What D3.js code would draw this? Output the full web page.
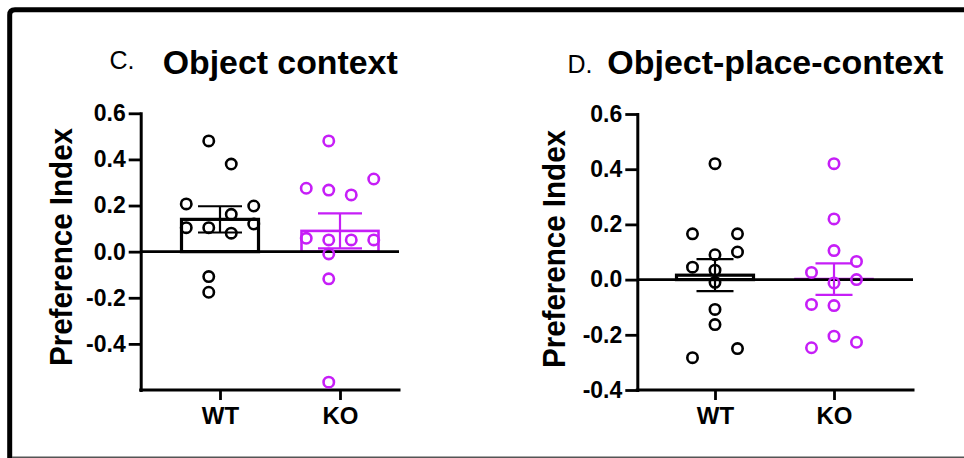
<!DOCTYPE html>
<html>
<head>
<meta charset="utf-8">
<script src="https://cdn.jsdelivr.net/npm/d3@7/dist/d3.min.js"></script>
<style>
  html, body { margin: 0; padding: 0; background: #fff; }
  svg { display: block; }
  text { font-family: "Liberation Sans", Arial, Helvetica, sans-serif; fill: #000; }
</style>
</head>
<body>
<svg id="chart" width="964" height="458"></svg>
<script>
// ---------------- DATA ----------------
const groups = ["WT", "KO"];

// Panel C: Object context
const cTitleLetter = "C.";
const cTitle = "Object context";
const cTickValues = [0.6, 0.4, 0.2, 0.0, -0.2, -0.4];
const cTickLabels = ["0.6", "0.4", "0.2", "0.0", "-0.2", "-0.4"];
const cWT = [0.48, 0.38, 0.207, 0.198, 0.162, 0.12, 0.104, 0.104, 0.08, -0.108, -0.176];
const cWTSlots = [-0.5, 0.5, -1.5, 1.5, 0.5, 1.5, -1.5, -0.5, 0.5, -0.5, -0.5];
const cKO = [0.48, 0.315, 0.275, 0.267, 0.246, 0.058, 0.051, 0.051, 0.051, -0.01, -0.118, -0.566];
const cKOSlots = [-0.5, 1.5, -1.5, -0.5, 0.5, -1.5, -0.5, 0.5, 1.5, -0.5, -0.5, -0.5];
const cMeans = [0.14, 0.09];
const cSems = [0.057, 0.076];

// Panel D: Object-place-context
const dTitleLetter = "D.";
const dTitle = "Object-place-context";
const dTickValues = [0.6, 0.4, 0.2, 0.0, -0.2, -0.4];
const dTickLabels = ["0.6", "0.4", "0.2", "0.0", "-0.2", "-0.4"];
const dWT = [0.42, 0.166, 0.166, 0.1, 0.09, 0.045, 0.034, -0.01, -0.108, -0.163, -0.25, -0.283];
const dWTSlots = [0, -1, 1, 1, 0, -1, 0, 0, 0, 0, 1, -1];
const dKO = [0.42, 0.22, 0.105, 0.066, 0.026, 0.0, -0.012, -0.09, -0.094, -0.205, -0.227, -0.247];
const dKOSlots = [0, 0, 0, 1, -1, 1, 0, -1, 0, 0, 1, -1];
const dMeans = [0.016, 0.002];
const dSems = [0.058, 0.057];

const yLabel = "Preference Index";

// ---------------- STYLE / LAYOUT ----------------
const colors = { WT: "#000000", KO: "#c61ef7" };
const svg = d3.select("#chart");

// outer frame
svg.append("path")
  .attr("d", "M9.7,470 L9.7,15 Q9.7,9.7 15,9.7 L970,9.7")
  .attr("fill", "none").attr("stroke", "#000").attr("stroke-width", 5);
svg.append("line")
  .attr("x1", 12).attr("x2", 964).attr("y1", 457.3).attr("y2", 457.3)
  .attr("stroke", "#555").attr("stroke-width", 1.6);

function panel(cfg) {
  const g = svg.append("g");
  const y = d3.scaleLinear().domain(cfg.yDomain).range([cfg.yBottom, cfg.yTop]);
  const x = d3.scalePoint().domain(groups).range(cfg.xCenters);

  // titles
  g.append("text").attr("x", cfg.letterX).attr("y", cfg.letterY)
    .style("font-size", cfg.letterSize + "px").text(cfg.letter);
  g.append("text").attr("x", cfg.titleX).attr("y", 73.5)
    .style("font-size", "34px").style("font-weight", "bold")
    .attr("textLength", cfg.titleLen).attr("lengthAdjust", "spacingAndGlyphs")
    .text(cfg.title);

  // y label
  g.append("text")
    .attr("transform", `translate(${cfg.yLabelX},${cfg.yLabelY}) rotate(-90)`)
    .attr("text-anchor", "middle")
    .style("font-size", "32px").style("font-weight", "bold")
    .attr("textLength", 238).attr("lengthAdjust", "spacingAndGlyphs")
    .text(yLabel);

  const series = [
    { key: "WT", vals: cfg.wt, slots: cfg.wtSlots, mean: cfg.means[0], sem: cfg.sems[0] },
    { key: "KO", vals: cfg.ko, slots: cfg.koSlots, mean: cfg.means[1], sem: cfg.sems[1] }
  ];

  // bars
  g.selectAll(".bar").data(series).enter().append("rect")
    .attr("x", d => x(d.key) - cfg.barW / 2)
    .attr("width", cfg.barW)
    .attr("y", d => Math.min(y(d.mean), y(0)))
    .attr("height", d => Math.abs(y(0) - y(d.mean)))
    .attr("fill", "none")
    .attr("stroke", d => colors[d.key])
    .attr("stroke-width", d => d.key === "WT" ? 3.2 : 2.6);

  // zero line
  g.append("line")
    .attr("x1", cfg.axisLeft).attr("x2", cfg.axisRight)
    .attr("y1", y(0)).attr("y2", y(0))
    .attr("stroke", "#000").attr("stroke-width", 2.6);

  // y axis
  const yAxis = d3.axisLeft(y)
    .tickValues(cfg.tickValues)
    .tickFormat((d, i) => cfg.tickLabels[i])
    .tickSize(12).tickSizeOuter(0).tickPadding(3);
  const ya = g.append("g").attr("transform", `translate(${cfg.axisLeft},0)`).call(yAxis);
  ya.select(".domain").attr("stroke-width", 3).attr("stroke-linecap", "square");
  ya.selectAll(".tick line").attr("stroke-width", 2.8);
  ya.selectAll(".tick text")
    .style("font-size", "23px").style("font-weight", "bold")
    .style("font-family", "'Liberation Sans', Arial, sans-serif").attr("fill", "#000");

  // x axis
  g.append("line")
    .attr("x1", cfg.axisLeft).attr("x2", cfg.axisRight)
    .attr("y1", cfg.yBottom).attr("y2", cfg.yBottom)
    .attr("stroke", "#000").attr("stroke-width", 3).attr("stroke-linecap", "square");
  const xAxis = d3.axisBottom(x).tickSize(10).tickSizeOuter(0).tickPadding(7);
  const xa = g.append("g").attr("transform", `translate(0,${cfg.yBottom})`).call(xAxis);
  xa.select(".domain").remove();
  xa.selectAll(".tick line").attr("stroke-width", 2.8);
  xa.selectAll(".tick text")
    .attr("dy", "0.71em")
    .style("font-size", "24px").style("font-weight", "bold")
    .style("font-family", "'Liberation Sans', Arial, sans-serif").attr("fill", "#000");

  // error bars
  series.forEach(s => {
    const cx = x(s.key);
    const eg = g.append("g").attr("stroke", colors[s.key]).attr("stroke-width", 2.2);
    eg.append("line").attr("x1", cx).attr("x2", cx)
      .attr("y1", y(s.mean + s.sem)).attr("y2", y(s.mean - s.sem));
    [s.mean + s.sem, s.mean - s.sem].forEach(v => {
      eg.append("line").attr("x1", cx - cfg.capW / 2).attr("x2", cx + cfg.capW / 2)
        .attr("y1", y(v)).attr("y2", y(v));
    });
  });

  // points
  series.forEach(s => {
    g.selectAll(null).data(s.vals.map((v, i) => ({ v, slot: s.slots[i] })))
      .enter().append("circle")
      .attr("cx", d => x(s.key) + d.slot * cfg.slotW)
      .attr("cy", d => y(d.v))
      .attr("r", 5.2)
      .attr("fill", "none")
      .attr("stroke", colors[s.key])
      .attr("stroke-width", 2.6);
  });
}

panel({
  letter: cTitleLetter, title: cTitle, titleLen: 235,
  letterX: 109.5, letterY: 68.5, letterSize: 25, titleX: 162.7,
  yLabelX: 72, yLabelY: 247,
  yDomain: [-0.6, 0.6], yBottom: 390, yTop: 113.3,
  xCenters: [220, 340], axisLeft: 140.7, axisRight: 399,
  tickValues: cTickValues, tickLabels: cTickLabels,
  wt: cWT, wtSlots: cWTSlots, ko: cKO, koSlots: cKOSlots,
  means: cMeans, sems: cSems,
  barW: 77, capW: 44, slotW: 22.5
});

panel({
  letter: dTitleLetter, title: dTitle, titleLen: 336,
  letterX: 567.5, letterY: 73, letterSize: 25, titleX: 607.3,
  yLabelX: 565, yLabelY: 249,
  yDomain: [-0.4, 0.6], yBottom: 390, yTop: 114,
  xCenters: [715, 834], axisLeft: 637.3, axisRight: 913,
  tickValues: dTickValues, tickLabels: dTickLabels,
  wt: dWT, wtSlots: dWTSlots, ko: dKO, koSlots: dKOSlots,
  means: dMeans, sems: dSems,
  barW: 77, capW: 37, slotW: 22.5
});
</script>
</body>
</html>
